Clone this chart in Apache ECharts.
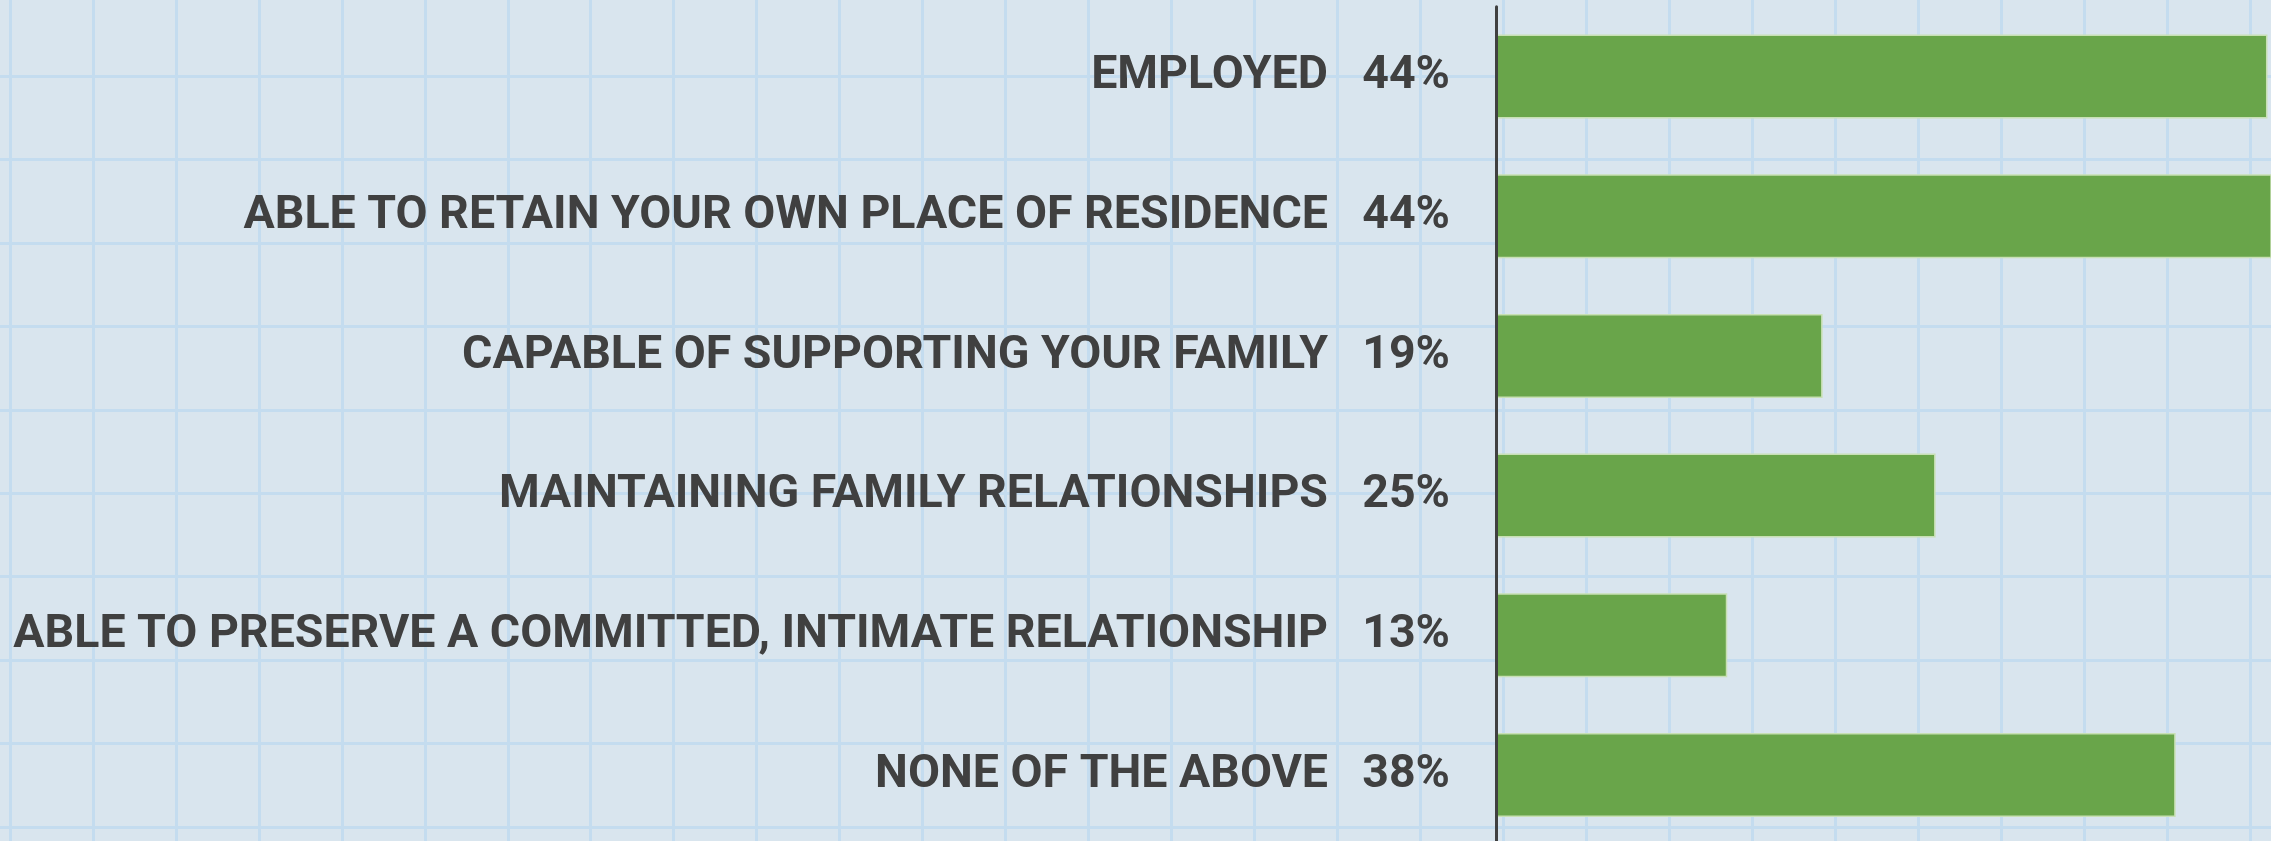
<!DOCTYPE html>
<html><head><meta charset="utf-8">
<script src="https://cdn.jsdelivr.net/npm/echarts@6/dist/echarts.min.js"></script>
<style>html,body{margin:0;padding:0;background:#d9e5ee}#c{width:2271px;height:841px}</style>
</head><body><div id="c"></div>
<script>
const categories = [
  'EMPLOYED',
  'ABLE TO RETAIN YOUR OWN PLACE OF RESIDENCE',
  'CAPABLE OF SUPPORTING YOUR FAMILY',
  'MAINTAINING FAMILY RELATIONSHIPS',
  'ABLE TO PRESERVE A COMMITTED, INTIMATE RELATIONSHIP',
  'NONE OF THE ABOVE'
];
const values = [43.7, 44.3, 18.5, 24.9, 13.1, 38.5];
const percentLabels = ['44%', '44%', '19%', '25%', '13%', '38%'];
const xMax = 43.9;

const chart = echarts.init(document.getElementById('c'), null, {renderer: 'canvas'});
const FONT = 'Roboto';
const TEXT = '#404040';
const paperLine = {show: true, lineStyle: {color: '#c4dcef', width: 3}};

chart.setOption({
  backgroundColor: '#d9e5ee',
  animation: false,
  grid: [
    {left: 1496, top: 6.65, width: 775, height: 838.2, containLabel: false, outerBoundsMode: 'none'},
    {left: -72.96, top: -7.44, width: 82.96 * 30, height: 83.44 * 11, containLabel: false, outerBoundsMode: 'none'}
  ],
  xAxis: [
    {gridIndex: 0, type: 'value', min: 0, max: xMax, show: false},
    {gridIndex: 1, type: 'value', min: 0, max: 30, interval: 1, axisLine: {show: false}, axisTick: {show: false}, axisLabel: {show: false}, splitLine: paperLine, z: 0},
  ],
  yAxis: [
    {
      gridIndex: 0, type: 'category', data: categories, inverse: true,
      axisLine: {show: true, lineStyle: {color: '#404040', width: 3}},
      axisTick: {show: false},
      splitLine: {show: false},
      z: 5,
      axisLabel: {
        margin: 46,
        formatter: (v, i) => '{n|' + v + '}{p|' + percentLabels[i] + '}',
        rich: {
          n: {fontFamily: FONT, fontWeight: 'bold', fontSize: 46.5, color: TEXT},
          p: {fontFamily: FONT, fontWeight: 'bold', fontSize: 46.5, color: TEXT, width: 122, align: 'right'}
        }
      }
    },
    {gridIndex: 1, type: 'value', min: 0, max: 11, interval: 1, axisLine: {show: false}, axisTick: {show: false}, axisLabel: {show: false}, splitLine: paperLine, z: 0}
  ],
  series: [{
    type: 'bar',
    xAxisIndex: 0, yAxisIndex: 0,
    data: values,
    barWidth: 84,
    itemStyle: {color: '#69a54a', borderColor: '#c8e0b4', borderWidth: 1.5},
    z: 3
  }]
});
</script></body></html>
